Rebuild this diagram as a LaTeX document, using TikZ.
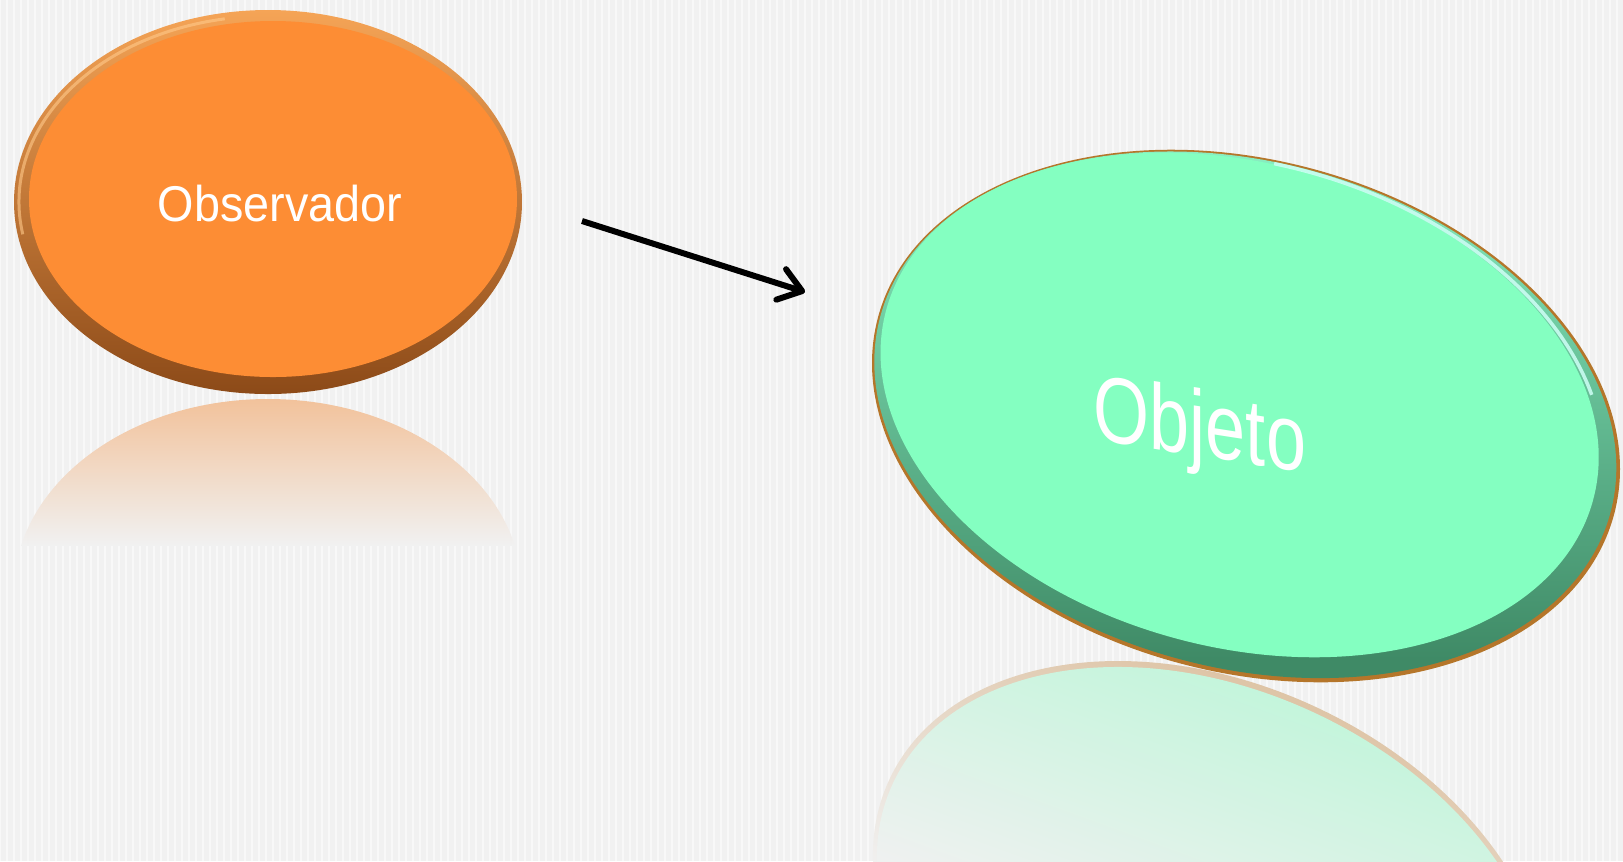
\documentclass[tikz,border=0pt]{standalone}
\usepackage{fontspec}
\setmainfont{Liberation Sans}
\usepackage{graphicx}
\usetikzlibrary{arrows.meta,shapes.geometric}
\definecolor{bgcol}{HTML}{F1F1F1}
\definecolor{orFace}{HTML}{FD8D34}
\definecolor{orRimTop}{HTML}{F5A456}
\definecolor{orRimBot}{HTML}{8C4A18}
\definecolor{orHi}{HTML}{FFC98A}
\definecolor{orRefl}{HTML}{F2C29B}
\definecolor{grFace}{HTML}{84FFC1}
\definecolor{grRimTop}{HTML}{8EF5C8}
\definecolor{grRimBot}{HTML}{3F8A66}
\definecolor{grEdge}{HTML}{B5762A}
\definecolor{grHi}{HTML}{CFFFF6}
\definecolor{grRefl}{HTML}{B4F6D4}
\definecolor{tanEdge}{HTML}{D8B68E}
\tikzset{
  labeltext/.style={text=white, inner sep=0pt, font=\fontsize{14.3}{16}\selectfont},
  bigtext/.style={text=white, inner sep=0pt, font=\fontsize{26.6}{30}\selectfont},
  connector/.style={line width=0.6mm, line cap=butt, -{Straight Barb[length=2.2mm, width=3.2mm, round]}},
}
\begin{document}
\begin{tikzpicture}[x=0.1mm, y=-0.1mm]
\useasboundingbox (0,0) rectangle (1623,861);
% background
\fill[bgcol] (0,0) rectangle (1623,861);
\foreach \i in {0,7,...,1623} {\draw[white, opacity=0.55, line width=0.12mm] (\i,0) -- (\i,861);}

% ---------- orange reflection ----------
\begin{scope}
  \clip (268,591) ellipse [x radius=25.4mm, y radius=19.2mm];
  \shade[top color=orRefl, bottom color=bgcol] (0,399) rectangle (560,545);
\end{scope}

% ---------- orange disc ----------
\shade[top color=orRimTop, bottom color=orRimBot] (268,202) ellipse [x radius=25.4mm, y radius=19.2mm];
\draw[orHi, line width=0.3mm, opacity=0.6] (268,202) ++(100:24.9mm and 18.6mm) arc [start angle=100, end angle=190, x radius=24.9mm, y radius=18.6mm];
\fill[orFace] (273,199) ellipse [x radius=24.4mm, y radius=17.8mm];
\node[labeltext] (obs) at (280,204) {\scalebox{0.93}[1]{Observador}};

% ---------- green reflection ----------
\begin{scope}
  \clip[rotate around={-25:(1212,930)}] (1212,930) ellipse [x radius=35.6mm, y radius=24.6mm];
  \shade[top color=tanEdge, bottom color=bgcol, shading angle=-20] (800,650) rectangle (1623,905);
\end{scope}
\begin{scope}
  \clip[rotate around={-25:(1212,932)}] (1212,932) ellipse [x radius=35.2mm, y radius=24.2mm];
  \shade[top color=grRefl, bottom color=bgcol, shading angle=-20] (800,650) rectangle (1623,905);
\end{scope}

% ---------- green disc ----------
\begin{scope}[shift={(1246,416)}, rotate=-15]
  \fill[grEdge] (0,0) ellipse [x radius=38.1mm, y radius=25.6mm];
  \shade[top color=grRimTop, bottom color=grRimBot] (-1,-1) ellipse [x radius=37.8mm, y radius=25.3mm];
  \fill[grFace] (-9,-9) ellipse [x radius=36.6mm, y radius=24.2mm];
  \draw[grHi, line width=0.35mm, opacity=0.85] (-6,-6) ++(25:36.9mm and 24.6mm) arc [start angle=25, end angle=95, x radius=36.9mm, y radius=24.6mm];
\end{scope}
\node[bigtext, anchor=base, yslant=-0.155] (obj) at (1200,456) {\scalebox{0.77}[1]{Objeto}};

% ---------- arrow ----------
\coordinate (arrowStart) at (582,221);
\coordinate (arrowEnd) at (805,292);
\draw[connector] (arrowStart) -- (arrowEnd);
\end{tikzpicture}
\end{document}
